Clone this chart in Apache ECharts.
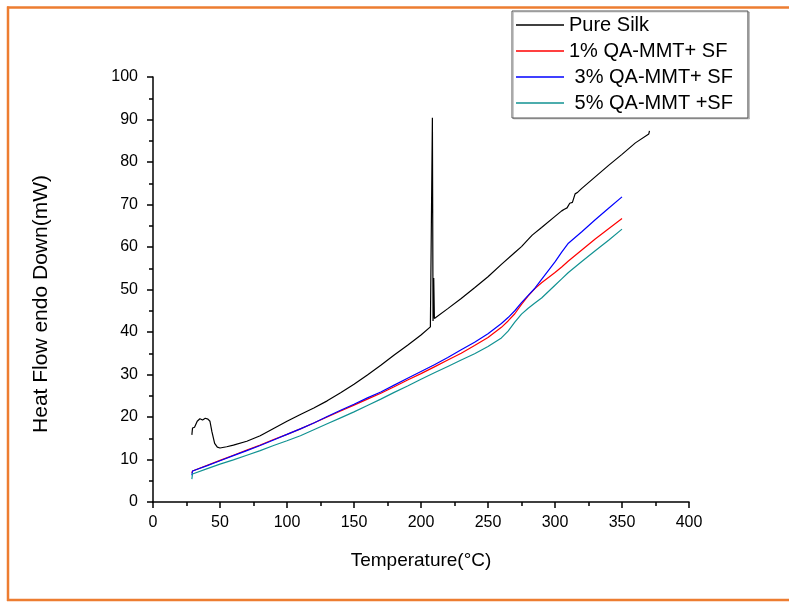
<!DOCTYPE html>
<html>
<head>
<meta charset="utf-8">
<script src="https://cdn.jsdelivr.net/npm/echarts@6/dist/echarts.min.js"></script>
<style>
html,body{margin:0;padding:0;background:#fff;}
#chart{width:789px;height:603px;}
</style>
</head>
<body>
<div id="chart"></div>
<script>
// ---- data ----
var seriesNames = ['Pure Silk', '1% QA-MMT+ SF', ' 3% QA-MMT+ SF', ' 5% QA-MMT +SF'];
var seriesColors = ['#000000', '#FF0000', '#0000FF', '#119292'];

var xTicks = [0, 50, 100, 150, 200, 250, 300, 350, 400];
var yTicks = [0, 10, 20, 30, 40, 50, 60, 70, 80, 90, 100];

var silkT = [29, 29.5, 31, 33, 35, 37, 39, 41, 42.5, 44, 46, 48, 50, 55, 60, 70, 80, 90, 100, 110, 120, 130, 140, 150, 160, 170, 180, 190, 200, 207, 208, 208.5, 209, 209.5, 210, 220, 230, 240, 250, 260, 270, 275, 280, 283, 290, 300, 305, 307, 309, 311, 313, 315, 317, 320, 330, 340, 350, 360, 370, 370.5];
var silkV = [15.8, 17.4, 17.6, 19.0, 19.6, 19.3, 19.7, 19.5, 19.0, 16.5, 13.8, 12.9, 12.7, 13.0, 13.4, 14.3, 15.6, 17.3, 19.0, 20.6, 22.1, 23.8, 25.7, 27.7, 29.9, 32.2, 34.6, 36.9, 39.3, 41.2, 41.6, 90.4, 42.6, 52.7, 43.2, 45.5, 47.9, 50.4, 53.0, 55.9, 58.7, 60.1, 61.8, 62.8, 64.6, 67.2, 68.5, 68.9, 69.2, 70.3, 70.5, 72.5, 72.9, 73.8, 76.5, 79.2, 81.8, 84.5, 86.6, 87.3];

var filmT = [29, 29.5, 40, 50, 60, 70, 80, 90, 100, 110, 120, 130, 140, 150, 160, 170, 180, 190, 200, 210, 220, 230, 240, 250, 260, 265, 270, 275, 280, 285, 290, 300, 305, 310, 320, 330, 340, 350];
var qa1V = [6.8, 7.3, 8.6, 9.8, 11.0, 12.2, 13.4, 14.7, 15.9, 17.2, 18.6, 20.0, 21.4, 22.8, 24.2, 25.6, 27.1, 28.7, 30.2, 31.8, 33.4, 35.0, 36.8, 38.7, 41.1, 42.6, 44.3, 46.5, 48.5, 50.2, 51.6, 54.0, 55.3, 56.7, 59.3, 61.9, 64.3, 66.7];
var qa3V = [6.3, 7.3, 8.5, 9.7, 10.9, 12.1, 13.3, 14.6, 15.9, 17.2, 18.6, 20.1, 21.6, 23.0, 24.5, 25.9, 27.5, 29.1, 30.7, 32.3, 34.0, 35.8, 37.6, 39.6, 42.0, 43.4, 45.0, 46.9, 48.6, 50.3, 52.4, 56.5, 58.8, 60.9, 63.6, 66.4, 69.1, 71.8];
var qa5V = [5.4, 6.6, 7.8, 8.9, 9.9, 11.0, 12.1, 13.3, 14.4, 15.6, 17.0, 18.4, 19.8, 21.2, 22.7, 24.2, 25.8, 27.3, 28.9, 30.4, 31.9, 33.4, 34.9, 36.6, 38.6, 40.2, 42.3, 44.2, 45.6, 46.8, 48.0, 51.0, 52.5, 54.0, 56.6, 59.1, 61.6, 64.2];

function pairs(xs, ys) { return xs.map(function (x, i) { return [x, ys[i]]; }); }

var FONT = "'Liberation Sans', Arial, sans-serif";
var chart = echarts.init(document.getElementById('chart'), null, {renderer: 'canvas'});

var allData = [pairs(silkT, silkV), pairs(filmT, qa1V), pairs(filmT, qa3V), pairs(filmT, qa5V)];

chart.setOption({
  backgroundColor: '#ffffff',
  animation: false,
  grid: {left: 153, right: 100, top: 77, bottom: 101, containLabel: false},
  legend: {
    orient: 'vertical',
    left: 512, top: 11,
    padding: [4, 15, 5, 4],
    itemGap: 6,
    itemWidth: 48, itemHeight: 1.3,
    icon: 'rect',
    borderColor: '#555', borderWidth: 1,
    backgroundColor: '#fff',
    shadowColor: 'rgba(0,0,0,0.2)', shadowOffsetX: 1.5, shadowOffsetY: 1, shadowBlur: 0,
    textStyle: {fontFamily: FONT, fontSize: 20, lineHeight: 20, color: '#000'},
    data: seriesNames
  },
  xAxis: {
    type: 'value', min: xTicks[0], max: xTicks[xTicks.length - 1], interval: 50,
    name: 'Temperature(\u00B0C)', nameLocation: 'middle', nameGap: 49,
    nameTextStyle: {fontFamily: FONT, fontSize: 19, color: '#000'},
    axisLine: {show: true, onZero: false, lineStyle: {color: '#000', width: 1.5}},
    axisTick: {show: true, inside: false, length: 6, lineStyle: {color: '#000', width: 1.5}},
    minorTick: {show: true, splitNumber: 2, length: 4, lineStyle: {color: '#000', width: 1.5}},
    axisLabel: {fontFamily: FONT, fontSize: 16, color: '#000', margin: 13},
    splitLine: {show: false}
  },
  yAxis: {
    type: 'value', min: yTicks[0], max: yTicks[yTicks.length - 1], interval: 10,
    axisLine: {show: true, onZero: false, lineStyle: {color: '#000', width: 1.5}},
    axisTick: {show: true, inside: false, length: 6, lineStyle: {color: '#000', width: 1.5}},
    minorTick: {show: true, splitNumber: 2, length: 4, lineStyle: {color: '#000', width: 1.5}},
    axisLabel: {fontFamily: FONT, fontSize: 16, color: '#000', margin: 15},
    splitLine: {show: false}
  },
  series: seriesNames.map(function (n, i) {
    return {
      name: n, type: 'line', data: allData[i], symbol: 'none', showSymbol: false,
      lineStyle: {color: seriesColors[i], width: 1.2}, itemStyle: {color: seriesColors[i]},
      z: i === 0 ? 3 : 2
    };
  }),
  graphic: [
    {type: 'text', x: 41, y: 304, rotation: Math.PI / 2,
     style: {text: 'Heat Flow endo Down(mW)', font: "21px 'Liberation Sans', Arial, sans-serif", fill: '#000', align: 'center', verticalAlign: 'middle'}},
    {type: 'line', shape: {x1: 7, y1: 7.5, x2: 789, y2: 7.5}, style: {stroke: '#ED7D31', lineWidth: 2.5}},
    {type: 'line', shape: {x1: 8, y1: 6.5, x2: 8, y2: 601}, style: {stroke: '#ED7D31', lineWidth: 2.5}},
    {type: 'line', shape: {x1: 7, y1: 600, x2: 789, y2: 600}, style: {stroke: '#ED7D31', lineWidth: 2.5}}
  ]
});
</script>
</body>
</html>
